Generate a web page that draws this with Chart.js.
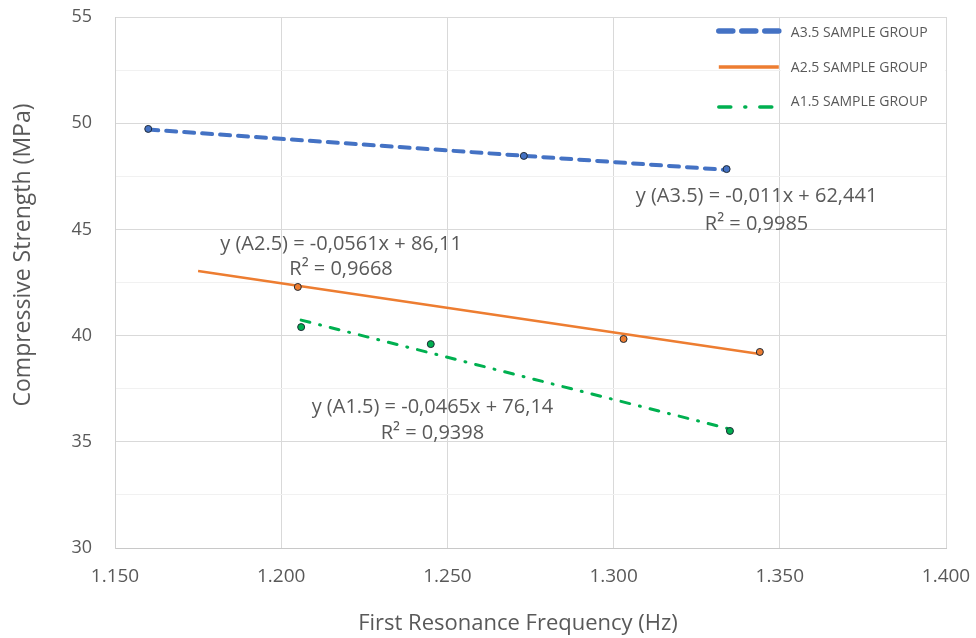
<!DOCTYPE html>
<html>
<head>
<meta charset="utf-8">
<title>Compressive Strength vs First Resonance Frequency</title>
<script src="https://cdn.jsdelivr.net/npm/chart.js@4.4.1/dist/chart.umd.min.js"></script>
<style>
  html, body { margin: 0; padding: 0; background: #fff; }
  #wrap { width: 976px; height: 638px; position: relative; }
</style>
</head>
<body>
<div id="wrap"><canvas id="chart"></canvas></div>
<script>
// Measured samples (Hz, MPa)
const a35Freq = [1160, 1273, 1334];
const a35Strength = [49.73, 48.46, 47.84];
const a25Freq = [1205, 1303, 1344];
const a25Strength = [42.29, 39.84, 39.23];
const a15Freq = [1206, 1245, 1335];
const a15Strength = [40.40, 39.60, 35.51];

// Trendline end points as drawn in the source figure
const a35TrendFreq = [1160, 1334];
const a35TrendStrength = [49.70, 47.80];
const a25TrendFreq = [1175, 1344];
const a25TrendStrength = [43.04, 39.13];
const a15TrendFreq = [1206, 1335];
const a15TrendStrength = [40.73, 35.60];

const seriesNames = ['A3.5 SAMPLE GROUP', 'A2.5 SAMPLE GROUP', 'A1.5 SAMPLE GROUP'];
const equationLines = [
    ['y (A3.5) = -0,011x + 62,441', 'R\u00B2 = 0,9985'],
    ['y (A2.5) = -0,0561x + 86,11', 'R\u00B2 = 0,9668'],
    ['y (A1.5) = -0,0465x + 76,14', 'R\u00B2 = 0,9398'],
];
const xTickValues = [1150, 1200, 1250, 1300, 1350, 1400];
const yMin = 30, yMax = 55;

const colors = { a35: '#4472C4', a25: '#ED7D31', a15: '#00B050' };
const textGrey = '#595959';
const FONT = '"Open Sans", "DejaVu Sans", sans-serif';
const NOTICK = 'rgba(0,0,0,0)';

// where each equation label sits, in data units (centre of text)
const equationAnchors = [
    { x: 1343, y: [46.57, 45.23] },
    { x: 1218, y: [44.31, 43.14] },
    { x: 1245.5, y: [36.64, 35.41] },
];

const zip = (xs, ys) => xs.map((x, i) => ({ x, y: ys[i] }));

function pointSet(label, xs, ys, color) {
    return {
        label,
        data: zip(xs, ys),
        showLine: false,
        pointRadius: 3.5,
        pointHoverRadius: 3.5,
        pointBackgroundColor: color,
        pointBorderColor: '#1f2a36',
        pointBorderWidth: 1,
        order: 0,
    };
}

function trendSet(label, xs, ys, color, width, dash) {
    return {
        label,
        data: zip(xs, ys),
        showLine: true,
        borderColor: color,
        borderWidth: width,
        borderDash: dash,
        borderCapStyle: dash.length ? 'round' : 'butt',
        pointRadius: 0,
        fill: false,
        order: 1,
    };
}

const legendSamples = [
    { color: colors.a35, width: 5.5, dash: [14, 9] },
    { color: colors.a25, width: 3.5, dash: [] },
    { color: colors.a15, width: 3.5, dash: [12, 14, 1, 14] },
];

const overlayPlugin = {
    id: 'overlay',
    afterDraw(chart) {
        const { ctx, chartArea, scales } = chart;
        const x = scales.x, y = scales.y;
        ctx.save();

        // equations
        ctx.fillStyle = textGrey;
        ctx.font = '20px ' + FONT;
        ctx.textAlign = 'center';
        ctx.textBaseline = 'middle';
        equationAnchors.forEach((a, i) => {
            equationLines[i].forEach((t, j) => {
                ctx.fillText(t, x.getPixelForValue(a.x), y.getPixelForValue(a.y[j]));
            });
        });

        // legend (top right, white panel over the grid)
        const boxLeft = x.getPixelForValue(1350) + 1;
        const boxRight = chartArea.right - 1;
        ctx.fillStyle = '#fff';
        ctx.fillRect(boxLeft, chartArea.top + 1, boxRight - boxLeft, 104);
        ctx.font = '14px ' + FONT;
        ctx.textAlign = 'left';
        ctx.fillStyle = textGrey;
        const rowY = [33, 68, 102];
        const lineY = [31, 67, 107];
        seriesNames.forEach((name, i) => {
            const s = legendSamples[i];
            ctx.beginPath();
            ctx.strokeStyle = s.color;
            ctx.lineWidth = s.width;
            ctx.lineCap = s.dash.length ? 'round' : 'butt';
            ctx.setLineDash(s.dash);
            ctx.moveTo(boxLeft - 62, lineY[i]);
            ctx.lineTo(boxLeft - 2, lineY[i]);
            ctx.stroke();
            ctx.setLineDash([]);
            ctx.fillText(name, boxLeft + 10, rowY[i]);
        });

        // axis titles
        ctx.fillStyle = textGrey;
        ctx.font = '22px ' + FONT;
        ctx.textAlign = 'center';
        ctx.fillText('First Resonance Frequency (Hz)', 518, 624);
        ctx.font = '23px ' + FONT;
        ctx.translate(23, 255);
        ctx.rotate(-Math.PI / 2);
        ctx.fillText('Compressive Strength (MPa)', 0, 0);
        ctx.restore();
    }
};

new Chart(document.getElementById('chart'), {
    type: 'scatter',
    data: {
        datasets: [
            trendSet(seriesNames[0] + ' trend', a35TrendFreq, a35TrendStrength, colors.a35, 4, [10, 8]),
            trendSet(seriesNames[1] + ' trend', a25TrendFreq, a25TrendStrength, colors.a25, 2.5, []),
            trendSet(seriesNames[2] + ' trend', a15TrendFreq, a15TrendStrength, colors.a15, 3, [9, 10, 1, 10]),
            pointSet(seriesNames[0], a35Freq, a35Strength, colors.a35),
            pointSet(seriesNames[1], a25Freq, a25Strength, colors.a25),
            pointSet(seriesNames[2], a15Freq, a15Strength, colors.a15),
        ]
    },
    options: {
        responsive: true,
        maintainAspectRatio: false,
        animation: false,
        layout: { padding: { top: 17, right: 30, left: 0, bottom: 0 } },
        scales: {
            x: {
                type: 'linear',
                min: xTickValues[0],
                max: xTickValues[xTickValues.length - 1],
                afterBuildTicks: (s) => { s.ticks = xTickValues.map((v) => ({ value: v })); },
                afterFit: (s) => { s.height = 90; },
                grid: { color: '#d9d9d9', tickLength: 17, tickColor: NOTICK },
                border: { color: '#c8c8c8' },
                ticks: {
                    padding: 0,
                    color: textGrey,
                    font: { family: FONT, size: 19 },
                    callback: (v) => (v / 1000).toFixed(3),
                },
            },
            y: {
                min: yMin,
                max: yMax,
                afterFit: (s) => { s.width = 115; },
                grid: {
                    tickLength: 23,
                    tickColor: NOTICK,
                    color: (c) => (c.tick.value % 5 === 0 ? '#d9d9d9' : '#f1f1f1'),
                },
                border: { color: '#d0d0d0' },
                ticks: {
                    stepSize: 2.5,
                    padding: 0,
                    color: textGrey,
                    font: { family: FONT, size: 18 },
                    callback: (v) => (v % 5 === 0 ? v : ''),
                },
            },
        },
        plugins: { legend: { display: false }, tooltip: { enabled: false } },
    },
    plugins: [overlayPlugin],
});
</script>
</body>
</html>
